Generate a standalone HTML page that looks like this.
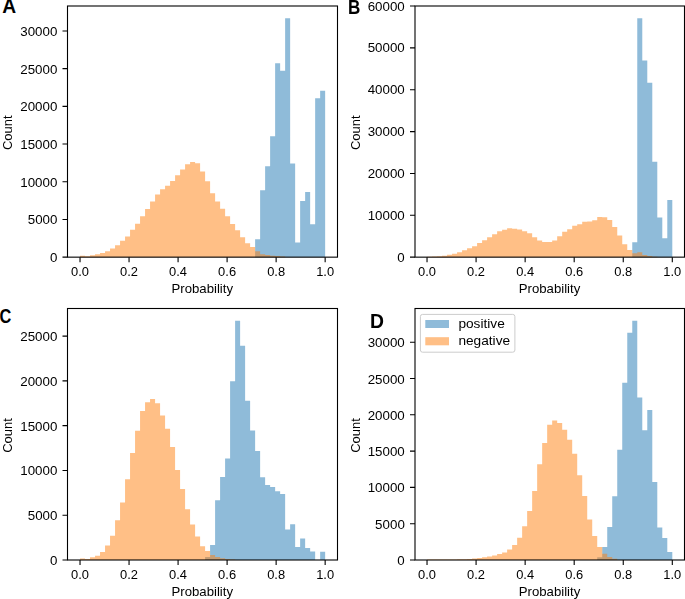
<!DOCTYPE html>
<html><head><meta charset="utf-8"><title>Histogram panels</title>
<style>html,body{margin:0;padding:0;background:#fff;}body{width:685px;height:599px;overflow:hidden;position:relative;font-family:"Liberation Sans",sans-serif;}</style>
</head><body>
<svg width="685" height="599" viewBox="0 0 685 599" style="display:block;position:absolute;left:0;top:0">
<rect x="0" y="0" width="685" height="599" fill="#fff"/>
<g id="panelA">
<path d="M255.12 257.15L255.12 239.35L260.12 239.35L260.12 190.15L265.12 190.15L265.12 166.15L270.12 166.15L270.12 136.15L275.13 136.15L275.13 63.25L280.13 63.25L280.13 70.75L285.13 70.75L285.13 18.15L290.13 18.15L290.13 163.55L295.14 163.55L295.14 242.45L300.14 242.45L300.14 200.95L305.14 200.95L305.14 191.95L310.14 191.95L310.14 224.25L315.15 224.25L315.15 98.15L320.15 98.15L320.15 90.65L325.15 90.65L325.15 257.15Z" fill="#1f77b4" fill-opacity="0.5"/>
<path d="M80.03 257.15L80.03 255.75L85.03 255.75L85.03 256.25L90.03 256.25L90.03 255.15L95.04 255.15L95.04 254.25L100.04 254.25L100.04 253.05L105.04 253.05L105.04 251.15L110.04 251.15L110.04 248.45L115.05 248.45L115.05 245.25L120.05 245.25L120.05 240.85L125.05 240.85L125.05 236.55L130.05 236.55L130.05 229.85L135.06 229.85L135.06 223.75L140.06 223.75L140.06 216.25L145.06 216.25L145.06 208.95L150.06 208.95L150.06 201.45L155.07 201.45L155.07 194.55L160.07 194.55L160.07 189.25L165.07 189.25L165.07 185.65L170.07 185.65L170.07 180.95L175.08 180.95L175.08 175.25L180.08 175.25L180.08 169.45L185.08 169.45L185.08 164.35L190.08 164.35L190.08 161.95L195.09 161.95L195.09 163.15L200.09 163.15L200.09 171.45L205.09 171.45L205.09 181.15L210.09 181.15L210.09 193.15L215.10 193.15L215.10 201.55L220.10 201.55L220.10 208.85L225.10 208.85L225.10 216.15L230.10 216.15L230.10 224.05L235.11 224.05L235.11 230.35L240.11 230.35L240.11 237.15L245.11 237.15L245.11 243.35L250.11 243.35L250.11 247.10L255.12 247.10L255.12 251.20L260.12 251.20L260.12 254.15L265.12 254.15L265.12 255.05L270.12 255.05L270.12 255.65L275.13 255.65L275.13 255.95L280.13 255.95L280.13 256.55L285.13 256.55L285.13 257.15Z" fill="#ff7f0e" fill-opacity="0.5"/>
<rect x="67.5" y="6.0" width="270.00" height="251.15" fill="none" stroke="#000" stroke-width="1.1"/>
<path d="M80.03 257.15v5.0M129.05 257.15v5.0M178.08 257.15v5.0M227.10 257.15v5.0M276.13 257.15v5.0M325.15 257.15v5.0M67.5 257.15h-5.0M67.5 219.45h-5.0M67.5 181.75h-5.0M67.5 144.05h-5.0M67.5 106.35h-5.0M67.5 68.65h-5.0M67.5 30.95h-5.0" stroke="#000" stroke-width="1.1" fill="none"/>
</g>
<g id="panelB">
<path d="M632.26 257.15L632.26 242.15L637.26 242.15L637.26 18.15L642.27 18.15L642.27 60.45L647.27 60.45L647.27 82.65L652.28 82.65L652.28 161.75L657.28 161.75L657.28 217.55L662.29 217.55L662.29 238.25L667.29 238.25L667.29 199.95L672.30 199.95L672.30 257.15Z" fill="#1f77b4" fill-opacity="0.5"/>
<path d="M427.03 257.15L427.03 256.75L432.04 256.75L432.04 256.55L437.04 256.55L437.04 256.35L442.05 256.35L442.05 255.65L447.05 255.65L447.05 254.75L452.06 254.75L452.06 253.75L457.06 253.75L457.06 252.15L462.07 252.15L462.07 250.25L467.07 250.25L467.07 248.15L472.08 248.15L472.08 246.25L477.09 246.25L477.09 243.05L482.09 243.05L482.09 240.15L487.10 240.15L487.10 237.25L492.10 237.25L492.10 234.15L497.11 234.15L497.11 231.25L502.11 231.25L502.11 229.65L507.12 229.65L507.12 228.15L512.12 228.15L512.12 228.65L517.13 228.65L517.13 229.45L522.13 229.45L522.13 231.15L527.14 231.15L527.14 233.15L532.15 233.15L532.15 237.15L537.15 237.15L537.15 240.55L542.16 240.55L542.16 242.05L547.16 242.05L547.16 242.05L552.17 242.05L552.17 240.55L557.17 240.55L557.17 236.25L562.18 236.25L562.18 231.65L567.18 231.65L567.18 229.25L572.19 229.25L572.19 225.85L577.20 225.85L577.20 224.25L582.20 224.25L582.20 221.65L587.21 221.65L587.21 221.45L592.21 221.45L592.21 220.35L597.22 220.35L597.22 217.05L602.22 217.05L602.22 217.25L607.23 217.25L607.23 220.05L612.23 220.05L612.23 227.05L617.24 227.05L617.24 235.55L622.24 235.55L622.24 244.15L627.25 244.15L627.25 250.05L632.26 250.05L632.26 253.15L637.26 253.15L637.26 252.15L642.27 252.15L642.27 254.95L647.27 254.95L647.27 256.05L652.28 256.05L652.28 256.65L657.28 256.65L657.28 257.15Z" fill="#ff7f0e" fill-opacity="0.5"/>
<rect x="415.0" y="6.0" width="269.50" height="251.15" fill="none" stroke="#000" stroke-width="1.1"/>
<path d="M427.03 257.15v5.0M476.08 257.15v5.0M525.14 257.15v5.0M574.19 257.15v5.0M623.25 257.15v5.0M672.30 257.15v5.0M415.0 257.15h-5.0M415.0 215.29h-5.0M415.0 173.43h-5.0M415.0 131.58h-5.0M415.0 89.72h-5.0M415.0 47.86h-5.0M415.0 6.00h-5.0" stroke="#000" stroke-width="1.1" fill="none"/>
</g>
<g id="panelC">
<path d="M205.09 560.00L205.09 557.00L210.09 557.00L210.09 545.05L215.10 545.05L215.10 500.20L220.10 500.20L220.10 477.10L225.10 477.10L225.10 458.60L230.10 458.60L230.10 381.30L235.11 381.30L235.11 320.70L240.11 320.70L240.11 345.80L245.11 345.80L245.11 400.80L250.11 400.80L250.11 430.60L255.12 430.60L255.12 450.90L260.12 450.90L260.12 477.30L265.12 477.30L265.12 485.00L270.12 485.00L270.12 487.00L275.13 487.00L275.13 491.30L280.13 491.30L280.13 494.10L285.13 494.10L285.13 529.50L290.13 529.50L290.13 524.20L295.14 524.20L295.14 547.10L300.14 547.10L300.14 538.40L305.14 538.40L305.14 547.90L310.14 547.90L310.14 551.40L315.15 551.40L315.15 560.00ZM320.15 560.00L320.15 551.80L325.15 551.80L325.15 560.00Z" fill="#1f77b4" fill-opacity="0.5"/>
<path d="M80.03 560.00L80.03 558.50L85.03 558.50L85.03 559.10L90.03 559.10L90.03 557.30L95.04 557.30L95.04 555.70L100.04 555.70L100.04 551.90L105.04 551.90L105.04 545.40L110.04 545.40L110.04 535.70L115.05 535.70L115.05 520.30L120.05 520.30L120.05 502.50L125.05 502.50L125.05 479.20L130.05 479.20L130.05 453.10L135.06 453.10L135.06 430.80L140.06 430.80L140.06 410.90L145.06 410.90L145.06 402.20L150.06 402.20L150.06 399.10L155.07 399.10L155.07 403.20L160.07 403.20L160.07 415.40L165.07 415.40L165.07 428.80L170.07 428.80L170.07 447.00L175.08 447.00L175.08 470.00L180.08 470.00L180.08 489.10L185.08 489.10L185.08 509.20L190.08 509.20L190.08 524.60L195.09 524.60L195.09 536.40L200.09 536.40L200.09 546.30L205.09 546.30L205.09 550.90L210.09 550.90L210.09 555.00L215.10 555.00L215.10 557.00L220.10 557.00L220.10 558.20L225.10 558.20L225.10 559.00L230.10 559.00L230.10 559.50L235.11 559.50L235.11 560.00Z" fill="#ff7f0e" fill-opacity="0.5"/>
<rect x="67.5" y="308.5" width="270.00" height="251.50" fill="none" stroke="#000" stroke-width="1.1"/>
<path d="M80.03 560.0v5.0M129.05 560.0v5.0M178.08 560.0v5.0M227.10 560.0v5.0M276.13 560.0v5.0M325.15 560.0v5.0M67.5 560.00h-5.0M67.5 515.22h-5.0M67.5 470.44h-5.0M67.5 425.66h-5.0M67.5 380.88h-5.0M67.5 336.10h-5.0" stroke="#000" stroke-width="1.1" fill="none"/>
</g>
<g id="panelD">
<path d="M597.22 560.00L597.22 557.20L602.22 557.20L602.22 547.10L607.23 547.10L607.23 527.00L612.23 527.00L612.23 496.30L617.24 496.30L617.24 449.80L622.24 449.80L622.24 382.80L627.25 382.80L627.25 332.80L632.26 332.80L632.26 320.70L637.26 320.70L637.26 397.50L642.27 397.50L642.27 430.30L647.27 430.30L647.27 409.90L652.28 409.90L652.28 482.00L657.28 482.00L657.28 527.40L662.29 527.40L662.29 537.90L667.29 537.90L667.29 552.00L672.30 552.00L672.30 560.00Z" fill="#1f77b4" fill-opacity="0.5"/>
<path d="M427.03 560.00L427.03 559.40L432.04 559.40L432.04 559.40L437.04 559.40L437.04 559.40L442.05 559.40L442.05 559.40L447.05 559.40L447.05 559.40L452.06 559.40L452.06 559.40L457.06 559.40L457.06 559.30L462.07 559.30L462.07 559.20L467.07 559.20L467.07 559.10L472.08 559.10L472.08 558.50L477.09 558.50L477.09 558.00L482.09 558.00L482.09 557.30L487.10 557.30L487.10 556.50L492.10 556.50L492.10 555.50L497.11 555.50L497.11 554.00L502.11 554.00L502.11 552.40L507.12 552.40L507.12 549.50L512.12 549.50L512.12 545.10L517.13 545.10L517.13 537.70L522.13 537.70L522.13 526.20L527.14 526.20L527.14 511.00L532.15 511.00L532.15 491.10L537.15 491.10L537.15 464.30L542.16 464.30L542.16 443.00L547.16 443.00L547.16 424.70L552.17 424.70L552.17 420.50L557.17 420.50L557.17 423.10L562.18 423.10L562.18 429.80L567.18 429.80L567.18 439.80L572.19 439.80L572.19 453.80L577.20 453.80L577.20 475.20L582.20 475.20L582.20 496.00L587.21 496.00L587.21 519.50L592.21 519.50L592.21 536.10L597.22 536.10L597.22 547.10L602.22 547.10L602.22 553.80L607.23 553.80L607.23 557.00L612.23 557.00L612.23 558.70L617.24 558.70L617.24 560.00Z" fill="#ff7f0e" fill-opacity="0.5"/>
<rect x="415.0" y="308.5" width="269.50" height="251.50" fill="none" stroke="#000" stroke-width="1.1"/>
<path d="M427.03 560.0v5.0M476.08 560.0v5.0M525.14 560.0v5.0M574.19 560.0v5.0M623.25 560.0v5.0M672.30 560.0v5.0M415.0 560.00h-5.0M415.0 523.70h-5.0M415.0 487.40h-5.0M415.0 451.10h-5.0M415.0 414.80h-5.0M415.0 378.50h-5.0M415.0 342.20h-5.0" stroke="#000" stroke-width="1.1" fill="none"/>
</g>
<rect x="420.4" y="314.4" width="94.5" height="37.8" rx="2.2" ry="2.2" fill="#fff" fill-opacity="0.8" stroke="#ccc" stroke-width="1"/>
<rect x="425.3" y="320.0" width="23.7" height="8.0" fill="#1f77b4" fill-opacity="0.5"/>
<rect x="425.3" y="337.2" width="23.7" height="8.1" fill="#ff7f0e" fill-opacity="0.5"/>
<g font-family="Liberation Sans, sans-serif" font-size="12.8" fill="#000" style="filter:grayscale(1)">
<text x="80.03" y="276.2" text-anchor="middle" textLength="17.96" lengthAdjust="spacingAndGlyphs">0.0</text>
<text x="129.05" y="276.2" text-anchor="middle" textLength="17.96" lengthAdjust="spacingAndGlyphs">0.2</text>
<text x="178.08" y="276.2" text-anchor="middle" textLength="17.96" lengthAdjust="spacingAndGlyphs">0.4</text>
<text x="227.10" y="276.2" text-anchor="middle" textLength="17.96" lengthAdjust="spacingAndGlyphs">0.6</text>
<text x="276.13" y="276.2" text-anchor="middle" textLength="17.96" lengthAdjust="spacingAndGlyphs">0.8</text>
<text x="325.15" y="276.2" text-anchor="middle" textLength="17.96" lengthAdjust="spacingAndGlyphs">1.0</text>
<text x="57.4" y="262.15" text-anchor="end" textLength="7.42" lengthAdjust="spacingAndGlyphs">0</text>
<text x="57.4" y="224.45" text-anchor="end" textLength="29.69" lengthAdjust="spacingAndGlyphs">5000</text>
<text x="57.4" y="186.75" text-anchor="end" textLength="37.11" lengthAdjust="spacingAndGlyphs">10000</text>
<text x="57.4" y="149.05" text-anchor="end" textLength="37.11" lengthAdjust="spacingAndGlyphs">15000</text>
<text x="57.4" y="111.35" text-anchor="end" textLength="37.11" lengthAdjust="spacingAndGlyphs">20000</text>
<text x="57.4" y="73.65" text-anchor="end" textLength="37.11" lengthAdjust="spacingAndGlyphs">25000</text>
<text x="57.4" y="35.95" text-anchor="end" textLength="37.11" lengthAdjust="spacingAndGlyphs">30000</text>
<text x="202.30" y="293.25" text-anchor="middle" textLength="61.5" lengthAdjust="spacingAndGlyphs">Probability</text>
<text transform="translate(11.9 132.77) rotate(-90)" text-anchor="middle" textLength="34.6" lengthAdjust="spacingAndGlyphs">Count</text>
<text x="427.03" y="276.2" text-anchor="middle" textLength="17.96" lengthAdjust="spacingAndGlyphs">0.0</text>
<text x="476.08" y="276.2" text-anchor="middle" textLength="17.96" lengthAdjust="spacingAndGlyphs">0.2</text>
<text x="525.14" y="276.2" text-anchor="middle" textLength="17.96" lengthAdjust="spacingAndGlyphs">0.4</text>
<text x="574.19" y="276.2" text-anchor="middle" textLength="17.96" lengthAdjust="spacingAndGlyphs">0.6</text>
<text x="623.25" y="276.2" text-anchor="middle" textLength="17.96" lengthAdjust="spacingAndGlyphs">0.8</text>
<text x="672.30" y="276.2" text-anchor="middle" textLength="17.96" lengthAdjust="spacingAndGlyphs">1.0</text>
<text x="404.8" y="261.70" text-anchor="end" textLength="7.42" lengthAdjust="spacingAndGlyphs">0</text>
<text x="404.8" y="219.84" text-anchor="end" textLength="37.11" lengthAdjust="spacingAndGlyphs">10000</text>
<text x="404.8" y="177.98" text-anchor="end" textLength="37.11" lengthAdjust="spacingAndGlyphs">20000</text>
<text x="404.8" y="136.13" text-anchor="end" textLength="37.11" lengthAdjust="spacingAndGlyphs">30000</text>
<text x="404.8" y="94.27" text-anchor="end" textLength="37.11" lengthAdjust="spacingAndGlyphs">40000</text>
<text x="404.8" y="52.41" text-anchor="end" textLength="37.11" lengthAdjust="spacingAndGlyphs">50000</text>
<text x="404.8" y="10.55" text-anchor="end" textLength="37.11" lengthAdjust="spacingAndGlyphs">60000</text>
<text x="549.55" y="293.25" text-anchor="middle" textLength="61.5" lengthAdjust="spacingAndGlyphs">Probability</text>
<text transform="translate(359.8 132.77) rotate(-90)" text-anchor="middle" textLength="34.6" lengthAdjust="spacingAndGlyphs">Count</text>
<text x="80.03" y="578.9" text-anchor="middle" textLength="17.96" lengthAdjust="spacingAndGlyphs">0.0</text>
<text x="129.05" y="578.9" text-anchor="middle" textLength="17.96" lengthAdjust="spacingAndGlyphs">0.2</text>
<text x="178.08" y="578.9" text-anchor="middle" textLength="17.96" lengthAdjust="spacingAndGlyphs">0.4</text>
<text x="227.10" y="578.9" text-anchor="middle" textLength="17.96" lengthAdjust="spacingAndGlyphs">0.6</text>
<text x="276.13" y="578.9" text-anchor="middle" textLength="17.96" lengthAdjust="spacingAndGlyphs">0.8</text>
<text x="325.15" y="578.9" text-anchor="middle" textLength="17.96" lengthAdjust="spacingAndGlyphs">1.0</text>
<text x="57.4" y="565.00" text-anchor="end" textLength="7.42" lengthAdjust="spacingAndGlyphs">0</text>
<text x="57.4" y="520.22" text-anchor="end" textLength="29.69" lengthAdjust="spacingAndGlyphs">5000</text>
<text x="57.4" y="475.44" text-anchor="end" textLength="37.11" lengthAdjust="spacingAndGlyphs">10000</text>
<text x="57.4" y="430.66" text-anchor="end" textLength="37.11" lengthAdjust="spacingAndGlyphs">15000</text>
<text x="57.4" y="385.88" text-anchor="end" textLength="37.11" lengthAdjust="spacingAndGlyphs">20000</text>
<text x="57.4" y="341.10" text-anchor="end" textLength="37.11" lengthAdjust="spacingAndGlyphs">25000</text>
<text x="202.30" y="596.15" text-anchor="middle" textLength="61.5" lengthAdjust="spacingAndGlyphs">Probability</text>
<text transform="translate(11.9 435.45) rotate(-90)" text-anchor="middle" textLength="34.6" lengthAdjust="spacingAndGlyphs">Count</text>
<text x="427.03" y="578.9" text-anchor="middle" textLength="17.96" lengthAdjust="spacingAndGlyphs">0.0</text>
<text x="476.08" y="578.9" text-anchor="middle" textLength="17.96" lengthAdjust="spacingAndGlyphs">0.2</text>
<text x="525.14" y="578.9" text-anchor="middle" textLength="17.96" lengthAdjust="spacingAndGlyphs">0.4</text>
<text x="574.19" y="578.9" text-anchor="middle" textLength="17.96" lengthAdjust="spacingAndGlyphs">0.6</text>
<text x="623.25" y="578.9" text-anchor="middle" textLength="17.96" lengthAdjust="spacingAndGlyphs">0.8</text>
<text x="672.30" y="578.9" text-anchor="middle" textLength="17.96" lengthAdjust="spacingAndGlyphs">1.0</text>
<text x="404.8" y="565.00" text-anchor="end" textLength="7.42" lengthAdjust="spacingAndGlyphs">0</text>
<text x="404.8" y="528.70" text-anchor="end" textLength="29.69" lengthAdjust="spacingAndGlyphs">5000</text>
<text x="404.8" y="492.40" text-anchor="end" textLength="37.11" lengthAdjust="spacingAndGlyphs">10000</text>
<text x="404.8" y="456.10" text-anchor="end" textLength="37.11" lengthAdjust="spacingAndGlyphs">15000</text>
<text x="404.8" y="419.80" text-anchor="end" textLength="37.11" lengthAdjust="spacingAndGlyphs">20000</text>
<text x="404.8" y="383.50" text-anchor="end" textLength="37.11" lengthAdjust="spacingAndGlyphs">25000</text>
<text x="404.8" y="347.20" text-anchor="end" textLength="37.11" lengthAdjust="spacingAndGlyphs">30000</text>
<text x="549.55" y="596.15" text-anchor="middle" textLength="61.5" lengthAdjust="spacingAndGlyphs">Probability</text>
<text transform="translate(359.8 435.45) rotate(-90)" text-anchor="middle" textLength="34.6" lengthAdjust="spacingAndGlyphs">Count</text>
<text x="458.4" y="328.1" textLength="46.4" lengthAdjust="spacingAndGlyphs">positive</text>
<text x="458.4" y="345.4" textLength="51.7" lengthAdjust="spacingAndGlyphs">negative</text>
</g>
<g font-family="Liberation Sans, sans-serif" font-weight="bold" font-size="19.7" fill="#000">
<text id="lA" transform="translate(2.2 13.0) scale(0.977 1)">A</text>
<text id="lB" transform="translate(347.9 13.8) scale(0.866 1)">B</text>
<text id="lC" transform="translate(-0.6 322.8) scale(0.831 1)">C</text>
<text id="lD" transform="translate(369.95 327.5) scale(0.983 1)">D</text>
</g>
</svg>
</body></html>
